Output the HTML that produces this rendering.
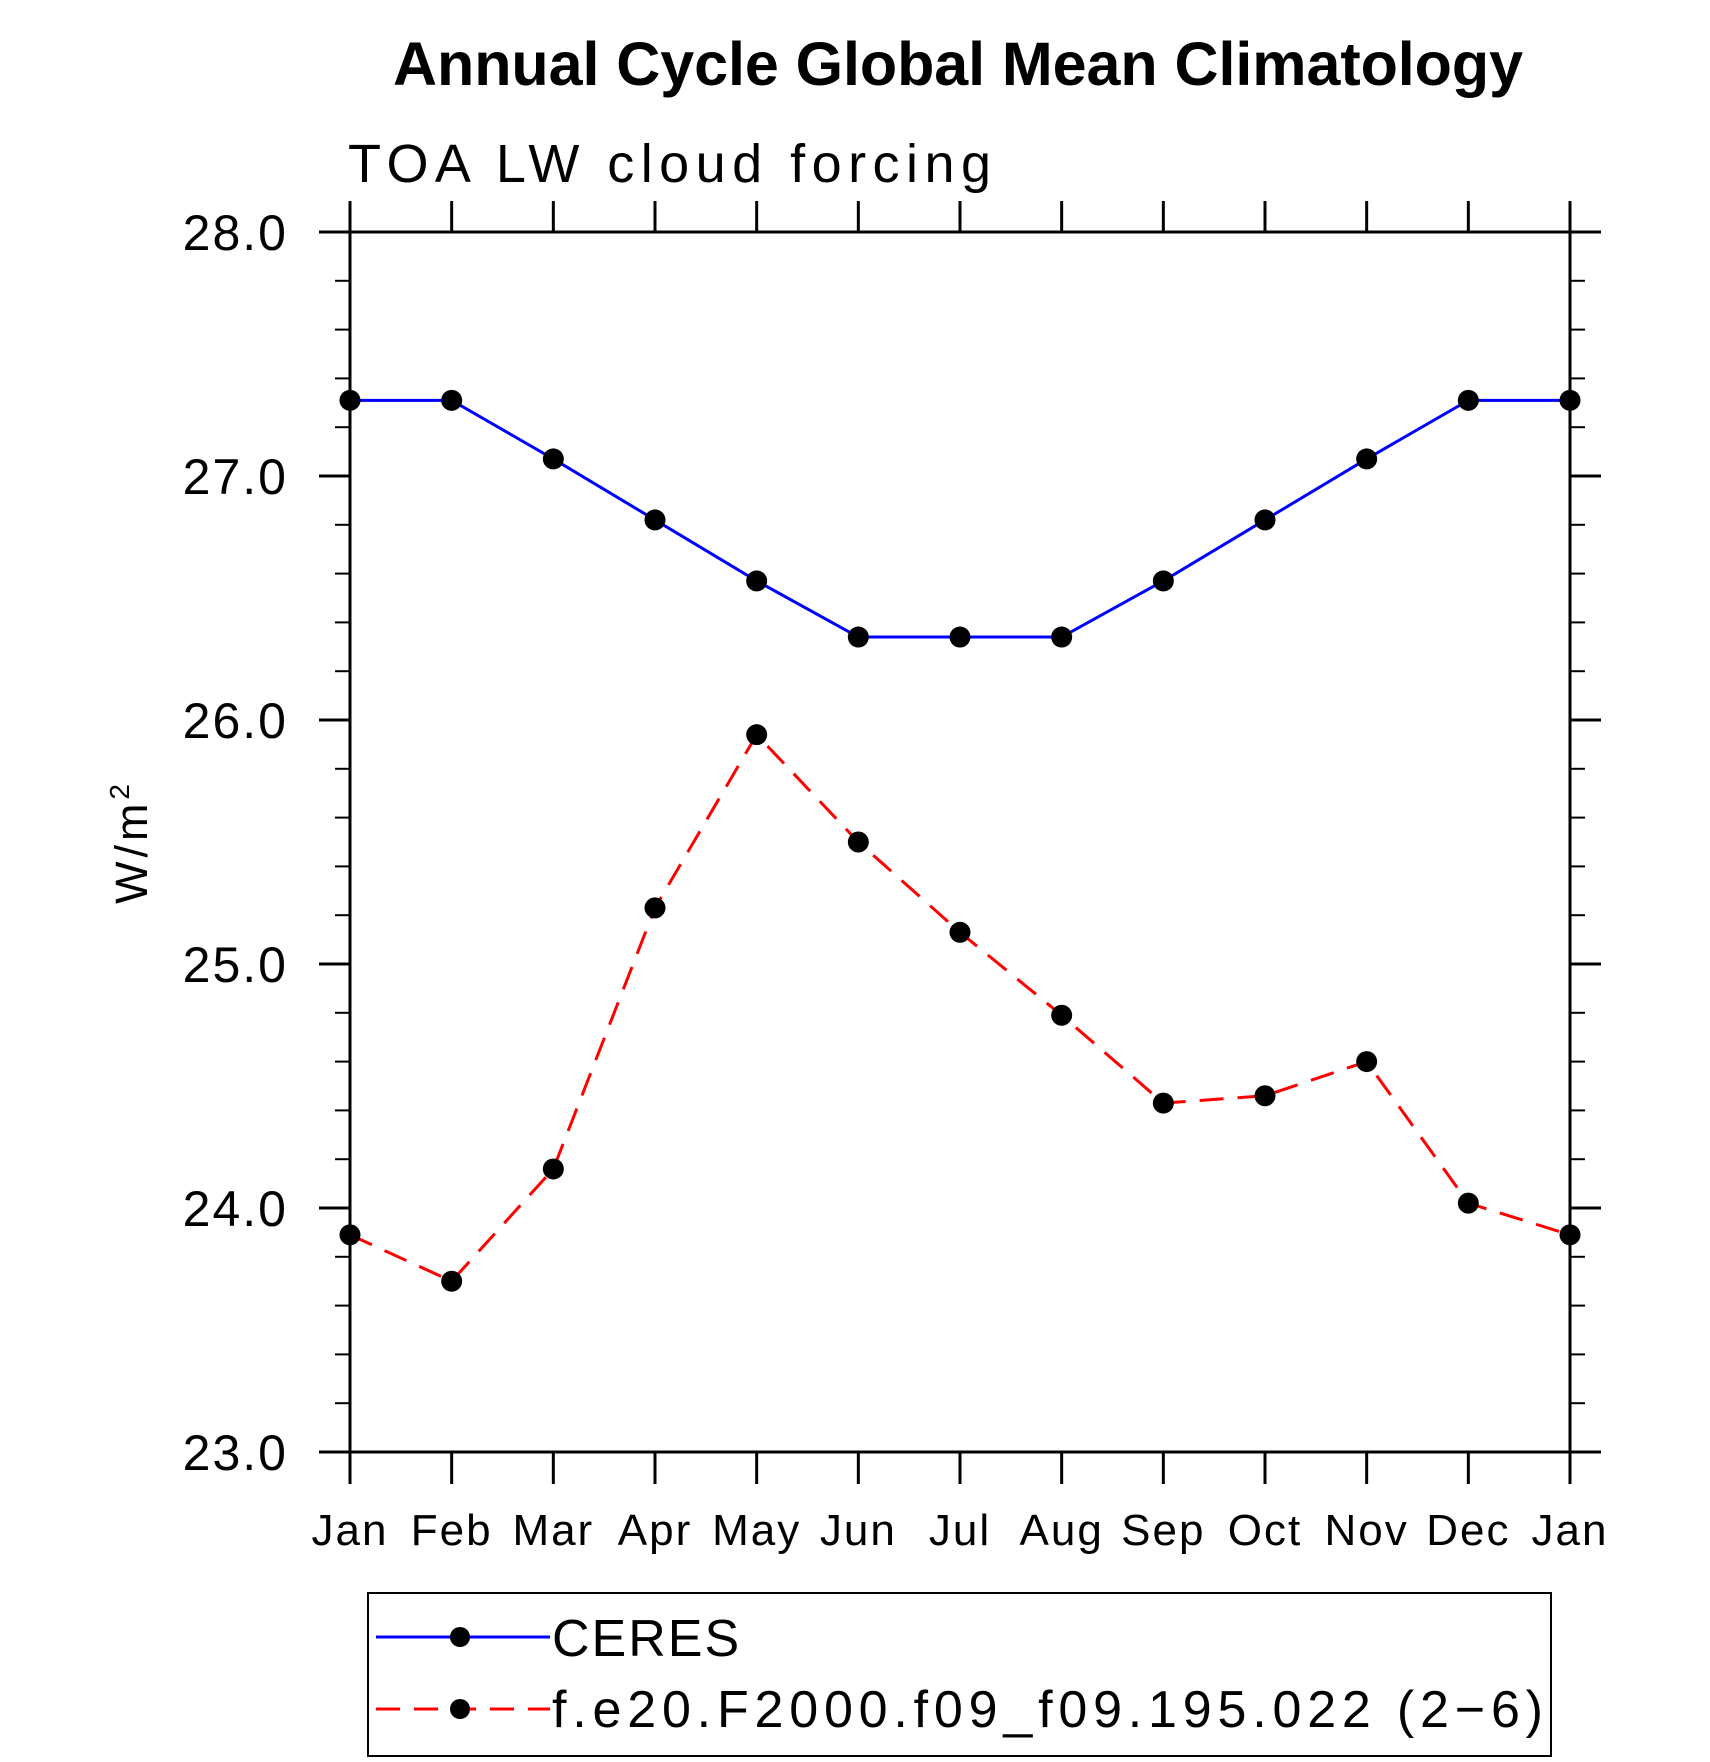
<!DOCTYPE html>
<html><head><meta charset="utf-8"><style>
html,body{margin:0;padding:0;background:#fff;}
svg{display:block;}
text{font-family:"Liberation Sans","DejaVu Sans",sans-serif;}
</style></head><body>
<svg id="chart" width="1710" height="1762" viewBox="0 0 1710 1762" xmlns="http://www.w3.org/2000/svg">
<text x="958" y="85" text-anchor="middle" font-size="61" font-weight="bold" textLength="1130">Annual Cycle Global Mean Climatology</text>
<text x="348" y="182" font-size="54" font-weight="300" letter-spacing="4" textLength="647">TOA LW cloud forcing</text>
<text transform="translate(147,842) rotate(-90)" text-anchor="middle" font-size="45" letter-spacing="4">W/m<tspan font-size="28" dy="-18">2</tspan></text>
<g id="axes"></g>
<g id="series"></g>
<g>
<rect x="368" y="1593" width="1183" height="163" fill="none" stroke="#000" stroke-width="2"/>
<g>
<line x1="376" y1="1637" x2="550" y2="1637" stroke="#0000ff" stroke-width="3"/>
<circle cx="460" cy="1637" r="10" fill="#000"/>
<text x="552" y="1656" font-size="52" font-weight="300" letter-spacing="2">CERES</text>
</g>
<g>
<line x1="376" y1="1709" x2="550" y2="1709" stroke="#ff0000" stroke-width="3" stroke-dasharray="24,14"/>
<circle cx="460" cy="1709" r="10" fill="#000"/>
<text x="552" y="1727" font-size="52" font-weight="300" letter-spacing="2" textLength="993">f.e20.F2000.f09_f09.195.022 (2−6)</text>
</g>
</g>
</svg>
<script>
const months = ["Jan","Feb","Mar","Apr","May","Jun","Jul","Aug","Sep","Oct","Nov","Dec","Jan"];
const ceresValues = [27.31,27.31,27.07,26.82,26.57,26.34,26.34,26.34,26.57,26.82,27.07,27.31,27.31];
const modelValues = [23.89,23.70,24.16,25.23,25.94,25.50,25.13,24.79,24.43,24.46,24.60,24.02,23.89];
const yTickLabels = ["23.0","24.0","25.0","26.0","27.0","28.0"];

const NS = "http://www.w3.org/2000/svg";
const X0 = 350, X1 = 1570, Y0 = 1452, Y1 = 232, YMIN = 23, YMAX = 28;
function xs(i){ return X0 + (X1 - X0) * i / (months.length - 1); }
function ys(v){ return Y0 - (v - YMIN) / (YMAX - YMIN) * (Y0 - Y1); }
function mk(tag, attrs, parent){ const e = document.createElementNS(NS, tag); for (const k in attrs) e.setAttribute(k, attrs[k]); parent.appendChild(e); return e; }

const axes = document.getElementById('axes');
const frame = mk('rect', {x:X0, y:Y1, width:X1-X0, height:Y0-Y1, fill:'none', stroke:'#000', 'stroke-width':3}, axes);



months.forEach((m, i) => {
  const x = xs(i);
  mk('line', {x1:x, y1:Y0, x2:x, y2:Y0+32, stroke:'#000', 'stroke-width':3}, axes);
  mk('line', {x1:x, y1:Y1, x2:x, y2:Y1-31, stroke:'#000', 'stroke-width':3}, axes);
  const t = mk('text', {x:x, y:1545, 'text-anchor':'middle', 'font-size':44, 'font-weight':300, 'letter-spacing':2}, axes);
  t.textContent = m;
  
  
});

for (let k = 0; k <= 25; k++) {
  const v = YMIN + k * 0.2;
  const y = ys(v);
  const major = k % 5 === 0;
  const len = major ? 31 : 15;
  mk('line', {x1:X0-len, y1:y, x2:X0, y2:y, stroke:'#000', 'stroke-width':major?3:2}, axes);
  mk('line', {x1:X1, y1:y, x2:X1+len, y2:y, stroke:'#000', 'stroke-width':major?3:2}, axes);
}
yTickLabels.forEach(lbl => {
  const y = ys(parseFloat(lbl));
  const t = mk('text', {x:288, y:y+18, 'text-anchor':'end', 'font-size':50, 'font-weight':300, 'letter-spacing':2}, axes);
  t.textContent = lbl;
  
  
});

const series = document.getElementById('series');
function drawSeries(vals, color, dash, name){
  const g = mk('g', {}, series);
  
  
  const pts = vals.map((v, i) => xs(i) + ',' + ys(v)).join(' ');
  const pl = mk('polyline', {points:pts, fill:'none', stroke:color, 'stroke-width':3}, g);
  if (dash) pl.setAttribute('stroke-dasharray', dash);
  
  
  vals.forEach((v, i) => {
    const c = mk('circle', {cx:xs(i), cy:ys(v), r:10.5, fill:'#000'}, g);
    
    
  });
}
drawSeries(ceresValues, '#0000ff', null, 'ceres-series');
drawSeries(modelValues, '#ff0000', '24,14', 'model-series');
</script>
</body></html>
